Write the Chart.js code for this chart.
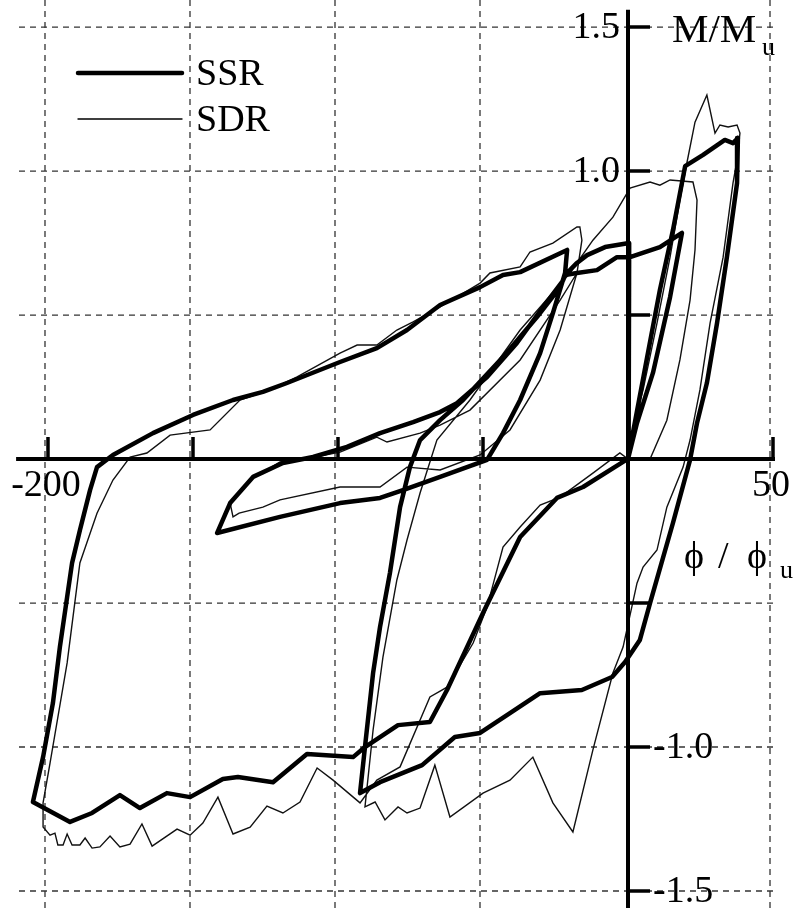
<!DOCTYPE html>
<html>
<head>
<meta charset="utf-8">
<script src="https://cdn.jsdelivr.net/npm/chart.js@4.4.1/dist/chart.umd.min.js"></script>
<style>
  html, body { margin: 0; padding: 0; background: #fff; }
  #wrap { width: 794px; height: 908px; }
</style>
</head>
<body>
<div id="wrap"><canvas id="hyst" width="794" height="908"></canvas></div>
<script>
// phi/phi_u and M/M_u, in drawing order
const ssrPhi = [
  0, 6.6, 11.0, 15.5, 19.7, 25.9, 33.4, 36.2, 37.9,
  37.6, 34.1, 30.7, 27.2, 23.8, 21.4, 15.5, 7.6, 4.1, -1.0, -5.5, -15.9, -30.3, -40.7, -51.0, -59.7, -71.0, -85.5, -92.4,
  -90.7, -87.9, -85.5, -82.1, -78.6, -75.2, -71.7, -64.8, -56.9, -43.1, -31.4, -23.4, -21.7,
  -17.6, -10.7, -3.8, 0.7, 11.0, 18.6,
  14.5, 8.6, 3.1, 0,
  -1.7, -15.5, -24.5, -37.2, -50.0, -62.4, -68.3, -79.3, -90.7, -94.8, -110.7, -122.4, -134.5, -139.7, -151.0, -159.0,
  -168.3, -175.2, -184.8, -192.4, -205.2, -201.7, -198.3, -195.9, -193.4, -191.7, -189.0, -185.5, -183.1, -177.6,
  -163.8, -150.0, -136.2, -125.9, -117.6, -99.3, -86.6, -76.2, -64.8, -51.0, -43.1, -37.2, -21.0,
  -21.7, -25.9, -30.3, -37.2, -43.1, -48.6, -64.8, -77.6, -85.5, -99.3, -120.0, -141.7,
  -137.2, -129.3, -119.0, -108.6, -96.9, -85.5, -74.1, -64.8, -59.0, -48.6, -38.3, -29.3, -22.4, -21.7,
  -17.6, -14.1, -7.9, 0.4, 0.2
];
const ssrM = [
  0, 0.354, 0.587, 0.795, 1.017, 1.056, 1.108, 1.097, 1.115,
  0.958, 0.701, 0.472, 0.264, 0.125, -0.003, -0.222, -0.5, -0.628, -0.705, -0.757, -0.802, -0.813, -0.882, -0.951, -0.965, -1.063, -1.122, -1.160,
  -1.0, -0.743, -0.583, -0.396, -0.167, -0.028, 0.066, 0.135, 0.205, 0.354, 0.493, 0.597, 0.639,
  0.646, 0.656, 0.701, 0.701, 0.736, 0.785,
  0.562, 0.299, 0.125, 0,
  -0.01, -0.097, -0.135, -0.271, -0.535, -0.802, -0.913, -0.924, -1.0, -1.035, -1.024, -1.122, -1.104, -1.111, -1.174, -1.160,
  -1.212, -1.167, -1.229, -1.260, -1.191, -1.035, -0.847, -0.653, -0.479, -0.361, -0.247, -0.108, -0.028, 0.014,
  0.090, 0.153, 0.205, 0.233, 0.264, 0.337, 0.385, 0.448, 0.535, 0.597, 0.639, 0.649, 0.726,
  0.646, 0.507, 0.368, 0.205, 0.090, -0.003, -0.062, -0.108, -0.135, -0.153, -0.201, -0.257,
  -0.153, -0.062, -0.014, 0.007, 0.042, 0.090, 0.128, 0.163, 0.194, 0.285, 0.403, 0.528, 0.620, 0.639,
  0.681, 0.708, 0.736, 0.750, 0
];

const sdrPhi = [
  0, 0.7, 5.2, 10.0, 14.5, 17.9, 20.3, 23.1, 27.2, 30.0, 31.7, 34.5, 37.6, 38.6,
  37.6, 36.2, 32.8, 28.3, 24.8, 21.4, 19.0, 13.4, 10.0, 5.2, 3.1, -1.7, -5.2, -12.1, -19.0,
  -25.9, -32.8, -40.7, -50.0, -61.4, -66.6, -71.7, -76.2, -79.3, -83.8, -87.2, -90.7,
  -87.9, -84.5, -79.7, -76.2, -71.7, -65.9, -54.5, -37.2, -20.0, -12.1, -5.2, 0.7, 7.6, 11.0, 14.5, 22.4, 23.8, 23.1, 21.4, 17.9, 13.4, 7.6, 0,
  -2.8, -12.1, -23.4, -30.3, -37.2, -43.1, -48.6, -53.4, -62.4, -68.3, -78.6, -86.6, -92.4, -101.7, -107.2, -113.1, -119.0,
  -124.5, -130.3, -136.2, -141.4, -146.6, -151.0, -155.5, -164.1, -167.6, -171.7, -175.2, -178.6, -182.1, -184.8, -187.2,
  -189.0, -191.7, -193.4, -194.8, -196.6, -197.6, -199.3, -201.7, -201.7, -199.3, -193.4, -189.0, -183.1, -177.6, -171.7,
  -165.9, -157.9, -144.1, -133.8, -123.4, -114.1, -99.3, -93.4, -86.6, -79.7, -74.1, -64.8, -51.0, -47.6, -37.2, -33.8,
  -25.9, -17.6, -16.6, -15.9, -17.6,
  -23.4, -30.3, -40.7, -51.0, -64.8, -76.2, -85.5, -99.3, -120.0, -125.9, -134.1, -136.2, -137.2,
  -130.3, -120.0, -109.7, -99.3, -86.6, -83.1, -71.7, -64.8, -54.5, -37.2, -23.4, -17.6
];
const sdrM = [
  0, 0.066, 0.240, 0.472, 0.701, 0.899, 1.028, 1.170, 1.264, 1.132, 1.160, 1.153, 1.160, 1.132,
  1.038, 0.958, 0.701, 0.472, 0.240, 0.066, -0.028, -0.167, -0.316, -0.375, -0.431, -0.653, -0.743, -1.010, -1.295,
  -1.194, -1.035, -1.115, -1.160, -1.243, -1.063, -1.212, -1.229, -1.208, -1.253, -1.191, -1.208,
  -0.941, -0.688, -0.420, -0.281, -0.118, 0.066, 0.205, 0.448, 0.646, 0.760, 0.840, 0.941, 0.962, 0.951, 0.969, 0.962, 0.899, 0.726, 0.552, 0.344, 0.135, 0.0, 0,
  0.021, -0.049, -0.132, -0.160, -0.236, -0.306, -0.514, -0.639, -0.792, -0.826, -1.069, -1.115, -1.194, -1.115, -1.073, -1.191, -1.229,
  -1.205, -1.278, -1.302, -1.174, -1.264, -1.306, -1.285, -1.344, -1.267, -1.337, -1.347, -1.309, -1.347, -1.351, -1.316,
  -1.340, -1.340, -1.302, -1.340, -1.340, -1.299, -1.306, -1.278, -1.194, -1.056, -0.708, -0.361, -0.188, -0.073, 0.007,
  0.021, 0.083, 0.101, 0.205, 0.240, 0.285, 0.368, 0.396, 0.396, 0.448, 0.476, 0.528, 0.611, 0.646, 0.667, 0.719,
  0.750, 0.806, 0.806, 0.760, 0.646,
  0.448, 0.274, 0.101, 0.014, -0.038, -0.028, -0.097, -0.097, -0.142, -0.167, -0.188, -0.201, -0.153,
  -0.073, -0.010, 0.003, 0.024, 0.076, 0.059, 0.090, 0.118, 0.170, 0.344, 0.552, 0.646
];

const gridPhi = [-200, -150, -100, -50, 50];
const gridM = [-1.5, -1.0, -0.5, 0.5, 1.0, 1.5];
const phiLabels = [-200, 50];
const mLabelsLeft = [1.5, 1.0];
const mLabelsRight = [-1.0, -1.5];

const toPoints = (xs, ys) => xs.map((v, i) => ({ x: v, y: ys[i] }));

const SERIF = "'Liberation Serif', 'Times New Roman', serif";

const frame = {
  id: "frame",
  beforeDatasetsDraw(chart) {
    const { ctx, scales: { x, y } } = chart;
    ctx.save();
    ctx.strokeStyle = "#333";
    ctx.lineWidth = 1.3;
    ctx.setLineDash([6, 5]);
    gridPhi.forEach((v) => {
      const px = x.getPixelForValue(v) - 3;
      ctx.beginPath();
      ctx.moveTo(px, 0);
      ctx.lineTo(px, chart.height);
      ctx.stroke();
    });
    gridM.forEach((v) => {
      const py = y.getPixelForValue(v);
      ctx.beginPath();
      ctx.moveTo(x.getPixelForValue(-210), py);
      ctx.lineTo(x.getPixelForValue(50), py);
      ctx.stroke();
    });
    ctx.restore();
  },
  afterDatasetsDraw(chart) {
    const { ctx, scales: { x, y } } = chart;
    const x0 = x.getPixelForValue(0);
    const y0 = y.getPixelForValue(0);
    ctx.save();
    ctx.strokeStyle = "#000";
    ctx.fillStyle = "#000";
    ctx.lineCap = "butt";

    // axes through the origin
    ctx.lineWidth = 4;
    ctx.beginPath();
    ctx.moveTo(x.getPixelForValue(-211), y0);
    ctx.lineTo(x.getPixelForValue(50) + 2, y0);
    ctx.moveTo(x0, y.getPixelForValue(1.56));
    ctx.lineTo(x0, chart.height);
    ctx.stroke();

    // tick marks
    ctx.lineWidth = 3.5;
    ctx.beginPath();
    gridPhi.forEach((v) => {
      const px = x.getPixelForValue(v);
      ctx.moveTo(px, y0);
      ctx.lineTo(px, y0 - 22);
    });
    gridM.forEach((v) => {
      const py = y.getPixelForValue(v);
      ctx.moveTo(x0, py);
      ctx.lineTo(x0 + 22, py);
    });
    ctx.stroke();

    // tick labels
    ctx.font = "38px " + SERIF;
    ctx.textBaseline = "alphabetic";
    ctx.textAlign = "center";
    phiLabels.forEach((v) => {
      ctx.fillText(String(v), x.getPixelForValue(v) - 2, y0 + 37);
    });
    ctx.textBaseline = "middle";
    ctx.textAlign = "right";
    mLabelsLeft.forEach((v) => {
      ctx.fillText(v.toFixed(1), x0 - 8, y.getPixelForValue(v) + 1);
    });
    ctx.textAlign = "left";
    mLabelsRight.forEach((v) => {
      ctx.fillText(v.toFixed(1), x0 + 25, y.getPixelForValue(v) + 1);
    });

    // axis titles
    ctx.textBaseline = "alphabetic";
    ctx.textAlign = "left";
    ctx.font = "41px " + SERIF;
    ctx.fillText("M/M", 672, 42);
    ctx.font = "38px " + SERIF;
    ctx.fillText("\u03D5", 684, 568);
    ctx.fillText("/", 718, 568);
    ctx.fillText("\u03D5", 747, 568);
    ctx.font = "26px " + SERIF;
    ctx.fillText("u", 762, 55);
    ctx.fillText("u", 780, 578);

    // legend
    chart.data.datasets.forEach((ds, i) => {
      const ly = 73 + i * 46;
      ctx.lineWidth = ds.borderWidth;
      ctx.lineCap = "round";
      ctx.beginPath();
      ctx.moveTo(78, ly);
      ctx.lineTo(182, ly);
      ctx.stroke();
      ctx.font = "38px " + SERIF;
      ctx.textBaseline = "middle";
      ctx.fillText(ds.label, 196, ly + 2);
    });
    ctx.restore();
  }
};

new Chart(document.getElementById("hyst"), {
  type: "scatter",
  data: {
    datasets: [
      {
        label: "SSR",
        data: toPoints(ssrPhi, ssrM),
        showLine: true,
        borderColor: "#000",
        borderWidth: 4.5,
        borderJoinStyle: "round",
        borderCapStyle: "round",
        pointRadius: 0,
        tension: 0,
      },
      {
        label: "SDR",
        data: toPoints(sdrPhi, sdrM),
        showLine: true,
        borderColor: "#111",
        borderWidth: 1.4,
        pointRadius: 0,
        tension: 0,
      },
    ],
  },
  options: {
    responsive: false,
    animation: false,
    layout: { padding: 0 },
    plugins: {
      legend: { display: false },
      tooltip: { enabled: false },
    },
    scales: {
      x: { type: "linear", min: -216.55, max: 57.24, display: false },
      y: { type: "linear", min: -1.559, max: 1.594, display: false },
    },
  },
  plugins: [frame],
});
</script>
</body>
</html>
